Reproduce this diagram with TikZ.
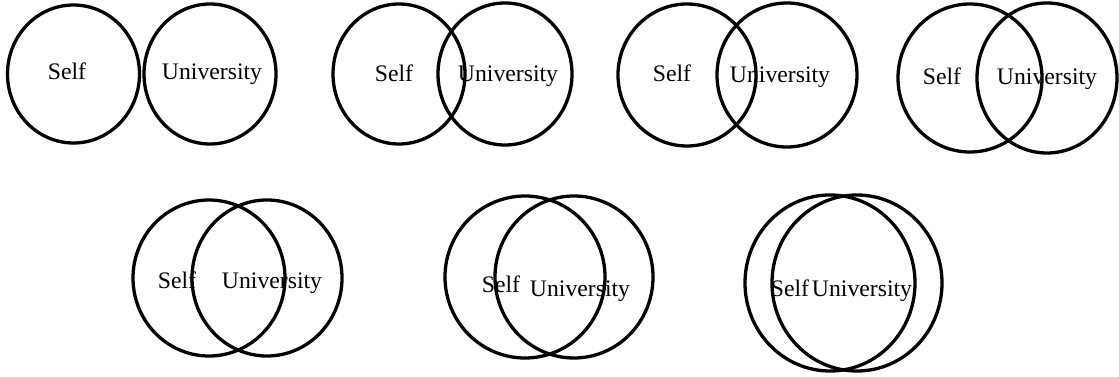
\documentclass[tikz,border=0pt]{standalone}
\usepackage{fontspec}
\setmainfont{Liberation Serif}
\begin{document}
\begin{tikzpicture}[x=1pt,y=-1pt,
  ring/.style={line width=3.3pt, draw=black},
  lbl/.style={font=\fontsize{23.7}{28}\selectfont, anchor=base, inner sep=0pt, text=black}]
\useasboundingbox (0,0) rectangle (1119,377);
% pair 1
\draw[ring] (73.5,74) ellipse [x radius=66, y radius=69];
\draw[ring] (210,74) ellipse [x radius=66, y radius=70];
\node[lbl] (s1) at (67,80) {Self};
\node[lbl] (u1) at (212,80) {University};
% pair 2
\draw[ring] (399,74) ellipse [x radius=66, y radius=70];
\draw[ring] (505,74) ellipse [x radius=67, y radius=71];
\node[lbl] (s2) at (394,82) {Self};
\node[lbl] (u2) at (508,82) {University};
% pair 3
\draw[ring] (687,75) ellipse [x radius=69, y radius=71];
\draw[ring] (787,75) ellipse [x radius=70, y radius=72];
\node[lbl] (s3) at (672,82) {Self};
\node[lbl] (u3) at (780,83) {University};
% pair 4
\draw[ring] (970,78) ellipse [x radius=72, y radius=74];
\draw[ring] (1047,78) ellipse [x radius=70, y radius=75];
\node[lbl] (s4) at (942,85) {Self};
\node[lbl] (u4) at (1047,85) {University};
% pair 5
\draw[ring] (209,278) ellipse [x radius=76, y radius=78];
\draw[ring] (267,278) ellipse [x radius=75, y radius=78];
\node[lbl] (s5) at (177,288) {Self};
\node[lbl] (u5) at (272,288) {University};
% pair 6
\draw[ring] (525,277) ellipse [x radius=80, y radius=81];
\draw[ring] (574,277) ellipse [x radius=79, y radius=81];
\node[lbl] (s6) at (501,292) {Self};
\node[lbl] (u6) at (580,296) {University};
% pair 7
\draw[ring] (830,283) ellipse [x radius=85, y radius=88];
\draw[ring] (857,283) ellipse [x radius=85, y radius=88];
\node[lbl] (s7) at (790,296) {Self};
\node[lbl] (u7) at (862,296) {University};
\end{tikzpicture}
\end{document}
